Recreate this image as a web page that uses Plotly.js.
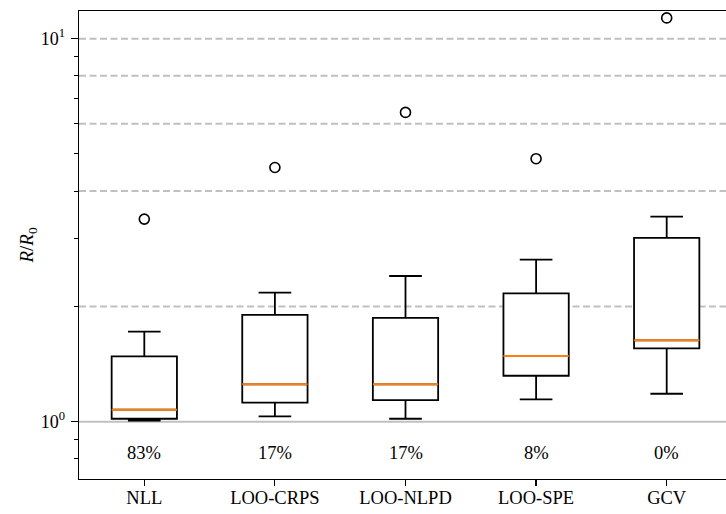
<!DOCTYPE html>
<html>
<head>
<meta charset="utf-8">
<script src="https://cdn.plot.ly/plotly-3.0.1.min.js"></script>
<style>
  html, body { margin: 0; padding: 0; overflow: hidden; background: #fff; }
  #chart { width: 733px; height: 514px; }
</style>
</head>
<body>
<div id="chart"></div>
<script>
const categories = ["NLL", "LOO-CRPS", "LOO-NLPD", "LOO-SPE", "GCV"];
const lowerWhisker = [1.006, 1.032, 1.018, 1.144, 1.183];
const q1 = [1.018, 1.121, 1.139, 1.318, 1.554];
const medians = [1.075, 1.252, 1.252, 1.484, 1.631];
const q3 = [1.481, 1.900, 1.866, 2.163, 3.018];
const upperWhisker = [1.718, 2.172, 2.401, 2.648, 3.43];
const outliers = [3.38, 4.61, 6.42, 4.86, 11.33];
const pctLabels = ["83%", "17%", "17%", "8%", "0%"];
const gridLevels = [2, 4, 6, 8, 10];
const refLevels = [1];
const yTickVals = [1, 10];
const yTickText = ["10<sup>0</sup>", "10<sup>1</sup>"];
const yMinorVals = [0.8, 0.9, 2, 3, 4, 5, 6, 7, 8, 9];

const positions = categories.map((c, i) => i + 1);
const BOX_W = 0.5;
const FONT = "Liberation Serif";

// median segments
const medX = [], medY = [];
positions.forEach((p, i) => {
  medX.push(p - BOX_W / 2, p + BOX_W / 2, null);
  medY.push(medians[i], medians[i], null);
});

const traces = [
  {
    type: "box",
    x: positions,
    q1: q1,
    median: medians,
    q3: q3,
    lowerfence: lowerWhisker,
    upperfence: upperWhisker,
    width: BOX_W,
    whiskerwidth: 0.5,
    boxpoints: false,
    fillcolor: "#ffffff",
    line: { color: "#000000", width: 1.8 },
    hoverinfo: "skip",
    showlegend: false
  },
  {
    type: "scatter",
    mode: "lines",
    x: medX,
    y: medY,
    line: { color: "#ff7f0e", width: 2 },
    hoverinfo: "skip",
    showlegend: false
  },
  {
    type: "scatter",
    mode: "markers",
    x: positions,
    y: outliers,
    marker: { symbol: "circle-open", size: 10, color: "#000000", line: { width: 1.6, color: "#000000" } },
    hoverinfo: "skip",
    showlegend: false
  }
];

const shapes = [];
gridLevels.forEach(v => shapes.push({
  type: "line", xref: "paper", x0: 0, x1: 1, yref: "y", y0: v, y1: v,
  layer: "below", line: { color: "#c0c0c0", width: 2, dash: "7px,3.5px" }
}));
refLevels.forEach(v => shapes.push({
  type: "line", xref: "paper", x0: 0, x1: 1, yref: "y", y0: v, y1: v,
  layer: "below", line: { color: "#c0c0c0", width: 2 }
}));

const annotations = categories.map((c, i) => ({
  x: positions[i], y: Math.log10(0.829), xref: "x", yref: "y",
  text: pctLabels[i], showarrow: false, xanchor: "center", yanchor: "middle",
  font: { family: FONT, size: 18.5, color: "#000" }
}));

const layout = {
  width: 733, height: 514,
  margin: { l: 79, r: 1, t: 11, b: 35, pad: 0 },
  paper_bgcolor: "#ffffff", plot_bgcolor: "#ffffff",
  font: { family: FONT, size: 18.5, color: "#000" },
  showlegend: false,
  xaxis: {
    range: [0.5, 5.5],
    tickmode: "array", tickvals: positions, ticktext: categories,
    ticks: "outside", ticklen: 6, tickwidth: 1.2, tickcolor: "#000",
    ticklabelstandoff: -5,
    showgrid: false, zeroline: false,
    showline: true, linecolor: "#000", linewidth: 1.3, mirror: true,
    tickfont: { family: FONT, size: 18.5, color: "#000" },
    automargin: false
  },
  yaxis: {
    type: "log",
    range: [-0.1496, 1.0723],
    tickmode: "array", tickvals: yTickVals, ticktext: yTickText,
    ticks: "outside", ticklen: 7, tickwidth: 1.2, tickcolor: "#000",
    ticklabelstandoff: 2,
    minor: { tickmode: "array", tickvals: yMinorVals, ticks: "outside", ticklen: 3.5, tickwidth: 1, tickcolor: "#000", showgrid: false },
    showgrid: false, zeroline: false,
    showline: true, linecolor: "#000", linewidth: 1.3, mirror: true,
    tickfont: { family: FONT, size: 18, color: "#000" },
    title: { text: "<i>R</i>/<i>R</i><sub>0</sub>", font: { family: FONT, size: 19, color: "#000" }, standoff: 2 },
    automargin: false
  },
  shapes: shapes,
  annotations: annotations
};

Plotly.newPlot("chart", traces, layout, { displayModeBar: false, staticPlot: true });
</script>
</body>
</html>
